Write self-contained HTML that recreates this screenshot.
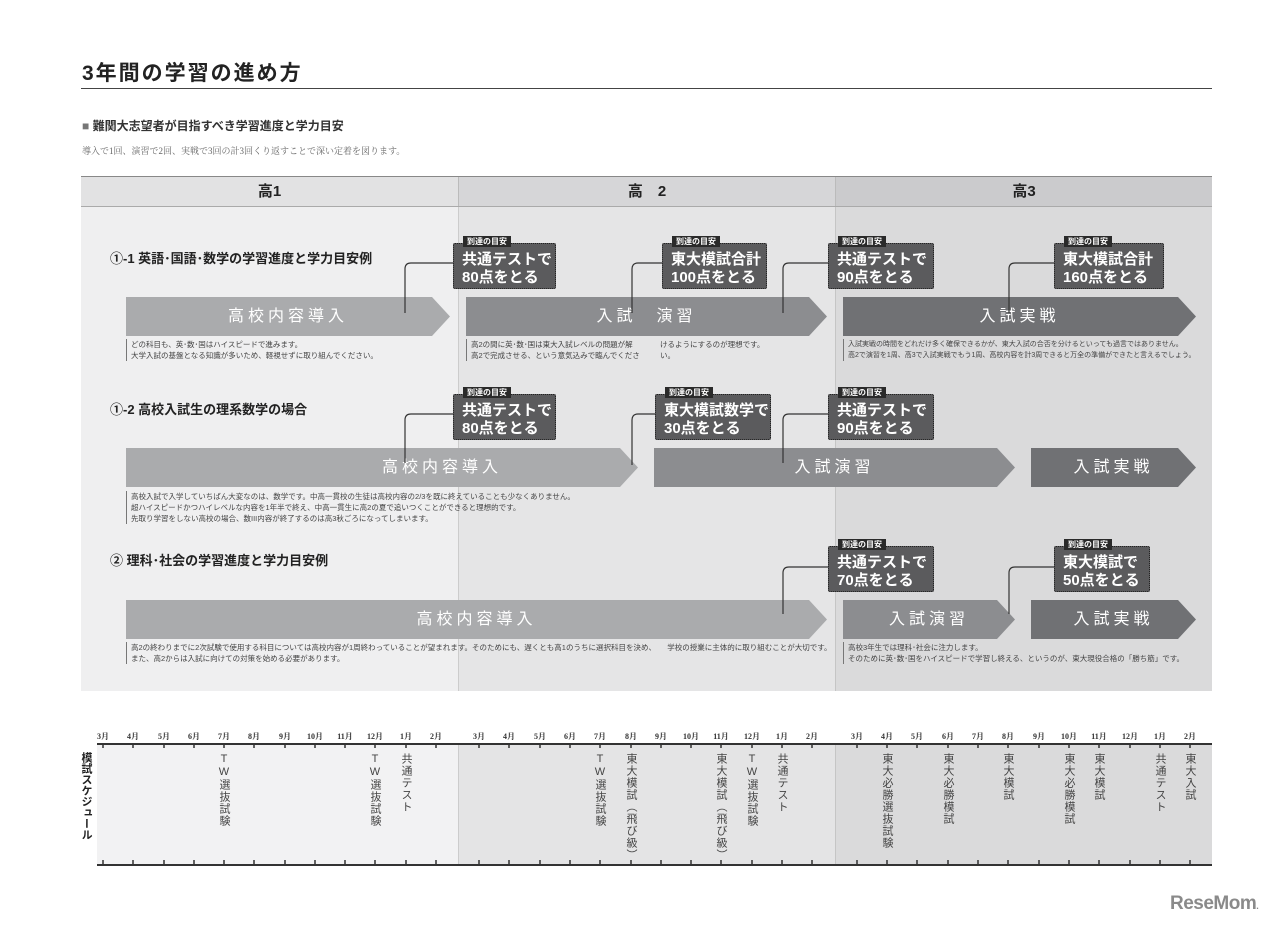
<!DOCTYPE html>
<html><head><meta charset="utf-8">
<style>
*{margin:0;padding:0;box-sizing:border-box}
body{width:1280px;height:930px;background:#fff;position:relative;overflow:hidden;font-family:"Liberation Sans","Noto Sans CJK JP",sans-serif;color:#333}
.a{position:absolute}
.col{position:absolute;top:177px;height:514px}
.hd{position:absolute;top:177px;height:30px;font-weight:bold;font-size:15px;color:#222;text-align:center;line-height:30px}
.arr{position:absolute;height:39px;color:#fff;font-size:16px;letter-spacing:4px;line-height:39px;text-align:center;clip-path:polygon(0 0,calc(100% - 18px) 0,100% 50%,calc(100% - 18px) 100%,0 100%)}
.l1{background:#aaabad}.l2{background:#8c8d90}.l3{background:#707174}
.box{position:absolute;background:#5b5b5d;border:1px dotted #222;color:#fff;font-weight:bold;font-size:15px;line-height:18px;padding:7px 0 0 8px;letter-spacing:0;border-radius:2px;white-space:nowrap}
.tag{position:absolute;left:9px;top:-8px;background:#2a2a2a;color:#fff;font-size:8px;line-height:11px;padding:0 4px;letter-spacing:0;font-weight:bold}
.desc{position:absolute;font-size:7.5px;line-height:11px;color:#444;border-left:1px solid #777;padding-left:4px;white-space:nowrap}
.sec{position:absolute;left:110px;font-size:13px;font-weight:bold;color:#222}
.mo{position:absolute;top:731px;font-size:8px;font-weight:bold;color:#333;width:30px;text-align:center;margin-left:-15px;font-family:"Liberation Serif","Noto Serif CJK SC",serif}
.v{position:absolute;top:753px;writing-mode:vertical-rl;text-orientation:upright;font-size:11px;line-height:12px;color:#444;letter-spacing:1px;margin-left:-6px}
</style></head><body>
<div class="a" style="left:82px;top:57px;font-size:21px;font-weight:bold;color:#222;letter-spacing:2px">3年間の学習の進め方</div>
<div class="a" style="left:81px;top:88px;width:1131px;height:1px;background:#444"></div>
<div class="a" style="left:82px;top:117px;font-size:12px;font-weight:bold;color:#333"><span style="color:#777">■</span> 難関大志望者が目指すべき学習進度と学力目安</div>
<div class="a" style="left:82px;top:144px;font-size:9px;color:#666;font-family:'Liberation Serif','Noto Serif CJK SC',serif">導入で1回、演習で2回、実戦で3回の計3回くり返すことで深い定着を図ります。</div>

<div class="col" style="left:81px;width:377px;background:#efeff0"></div>
<div class="col" style="left:458px;width:377px;background:#e5e5e6;border-left:1px solid #ccc"></div>
<div class="col" style="left:835px;width:377px;background:#dadadb;border-left:1px solid #c5c5c5"></div>
<div class="a" style="left:81px;top:176px;width:1131px;height:2px;background:#888"></div>
<div class="hd" style="left:81px;width:377px;background:#e2e2e3">高1</div>
<div class="hd" style="left:458px;width:377px;background:#d6d6d8;border-left:1px solid #bbb">高　2</div>
<div class="hd" style="left:835px;width:377px;background:#cbcbcd;border-left:1px solid #bbb">高3</div>
<div class="a" style="left:81px;top:206px;width:1131px;height:1px;background:#aaa"></div>

<div class="sec" style="top:248px">①-1 英語･国語･数学の学習進度と学力目安例</div>
<div class="sec" style="top:399px">①-2 高校入試生の理系数学の場合</div>
<div class="sec" style="top:550px">② 理科･社会の学習進度と学力目安例</div>

<div class="arr l1" style="left:126px;top:297px;width:324px">高校内容導入</div>
<div class="arr l2" style="left:466px;top:297px;width:361px">入試　演習</div>
<div class="arr l3" style="left:843px;top:297px;width:353px">入試実戦</div>
<div class="arr l1" style="left:126px;top:448px;width:512px;padding-left:120px">高校内容導入</div>
<div class="arr l2" style="left:654px;top:448px;width:361px">入試演習</div>
<div class="arr l3" style="left:1031px;top:448px;width:165px">入試実戦</div>
<div class="arr l1" style="left:126px;top:600px;width:701px">高校内容導入</div>
<div class="arr l2" style="left:843px;top:600px;width:172px">入試演習</div>
<div class="arr l3" style="left:1031px;top:600px;width:165px">入試実戦</div>

<svg class="a" style="left:0;top:0" width="1280" height="930" fill="none" stroke="#333" stroke-width="1.2">
<path d="M453 263H411Q405 263 405 269V313"/>
<path d="M662 263H638Q632 263 632 269V313"/>
<path d="M828 263H789Q783 263 783 269V313"/>
<path d="M1054 263H1015Q1009 263 1009 269V313"/>
<path d="M453 414H411Q405 414 405 420V463"/>
<path d="M655 414H638Q632 414 632 420V465"/>
<path d="M828 414H789Q783 414 783 420V463"/>
<path d="M828 567H789Q783 567 783 573V614"/>
<path d="M1054 567H1015Q1009 567 1009 573V614"/>
</svg>

<div class="box" style="left:453px;top:243px;width:103px;height:46px"><span class="tag">到達の目安</span>共通テストで<br>80点をとる</div>
<div class="box" style="left:662px;top:243px;width:105px;height:46px"><span class="tag">到達の目安</span>東大模試合計<br>100点をとる</div>
<div class="box" style="left:828px;top:243px;width:106px;height:46px"><span class="tag">到達の目安</span>共通テストで<br>90点をとる</div>
<div class="box" style="left:1054px;top:243px;width:110px;height:46px"><span class="tag">到達の目安</span>東大模試合計<br>160点をとる</div>
<div class="box" style="left:453px;top:394px;width:103px;height:46px"><span class="tag">到達の目安</span>共通テストで<br>80点をとる</div>
<div class="box" style="left:655px;top:394px;width:116px;height:46px"><span class="tag">到達の目安</span>東大模試数学で<br>30点をとる</div>
<div class="box" style="left:828px;top:394px;width:106px;height:46px"><span class="tag">到達の目安</span>共通テストで<br>90点をとる</div>
<div class="box" style="left:828px;top:546px;width:106px;height:46px"><span class="tag">到達の目安</span>共通テストで<br>70点をとる</div>
<div class="box" style="left:1054px;top:546px;width:96px;height:46px"><span class="tag">到達の目安</span>東大模試で<br>50点をとる</div>

<div class="desc" style="left:126px;top:339px">どの科目も、英･数･国はハイスピードで進みます。<br>大学入試の基盤となる知識が多いため、軽視せずに取り組んでください。</div>
<div class="desc" style="left:466px;top:339px">高2の間に英･数･国は東大入試レベルの問題が解<br>高2で完成させる、という意気込みで臨んでくださ</div>
<div class="a" style="left:660px;top:339px;font-size:7.5px;line-height:11px;color:#444">けるようにするのが理想です。<br>い。</div>
<div class="desc" style="left:843px;top:339px;font-size:7px">入試実戦の時間をどれだけ多く確保できるかが、東大入試の合否を分けるといっても過言ではありません。<br>高2で演習を1周、高3で入試実戦でもう1周、高校内容を計3周できると万全の準備ができたと言えるでしょう。</div>
<div class="desc" style="left:126px;top:491px">高校入試で入学していちばん大変なのは、数学です。中高一貫校の生徒は高校内容の2/3を既に終えていることも少なくありません。<br>超ハイスピードかつハイレベルな内容を1年半で終え、中高一貫生に高2の夏で追いつくことができると理想的です。<br>先取り学習をしない高校の場合、数III内容が終了するのは高3秋ごろになってしまいます。</div>
<div class="desc" style="left:126px;top:642px">高2の終わりまでに2次試験で使用する科目については高校内容が1周終わっていることが望まれます。そのためにも、遅くとも高1のうちに選択科目を決め、　　学校の授業に主体的に取り組むことが大切です。<br>また、高2からは入試に向けての対策を始める必要があります。</div>
<div class="desc" style="left:843px;top:642px">高校3年生では理科･社会に注力します。<br>そのために英･数･国をハイスピードで学習し終える、というのが、東大現役合格の「勝ち筋」です。</div>

<div class="a" style="left:97px;top:744px;width:361px;height:120px;background:#f2f2f3"></div>
<div class="a" style="left:458px;top:744px;width:377px;height:120px;background:#e4e4e5;border-left:1px solid #ccc"></div>
<div class="a" style="left:835px;top:744px;width:377px;height:120px;background:#dadadb;border-left:1px solid #c5c5c5"></div>
<div class="a" style="left:97px;top:743px;width:1115px;height:1.5px;background:#333"></div>
<div class="a" style="left:97px;top:864px;width:1115px;height:1.5px;background:#333"></div>
<div class="a" style="left:80px;top:752px;writing-mode:vertical-rl;text-orientation:upright;font-size:11px;font-weight:bold;color:#222;line-height:12px">模試スケジュール</div>
<svg class="a" style="left:0;top:0" width="1280" height="930" stroke="#333" stroke-width="1.5">
<g id="t">
<path d="M103 744v4M133 744v4M164 744v4M194 744v4M224 744v4M254 744v4M285 744v4M315 744v4M345 744v4M375 744v4M406 744v4M436 744v4M479 744v4M509 744v4M540 744v4M570 744v4M600 744v4M631 744v4M661 744v4M691 744v4M721 744v4M752 744v4M782 744v4M812 744v4M857 744v4M887 744v4M917 744v4M948 744v4M978 744v4M1008 744v4M1039 744v4M1069 744v4M1099 744v4M1130 744v4M1160 744v4M1190 744v4"/>
</g>
<use href="#t" y="116"/>
</svg>
<div class="mo" style="left:103px">3月</div><div class="mo" style="left:133px">4月</div><div class="mo" style="left:164px">5月</div><div class="mo" style="left:194px">6月</div><div class="mo" style="left:224px">7月</div><div class="mo" style="left:254px">8月</div><div class="mo" style="left:285px">9月</div><div class="mo" style="left:315px">10月</div><div class="mo" style="left:345px">11月</div><div class="mo" style="left:375px">12月</div><div class="mo" style="left:406px">1月</div><div class="mo" style="left:436px">2月</div>
<div class="mo" style="left:479px">3月</div><div class="mo" style="left:509px">4月</div><div class="mo" style="left:540px">5月</div><div class="mo" style="left:570px">6月</div><div class="mo" style="left:600px">7月</div><div class="mo" style="left:631px">8月</div><div class="mo" style="left:661px">9月</div><div class="mo" style="left:691px">10月</div><div class="mo" style="left:721px">11月</div><div class="mo" style="left:752px">12月</div><div class="mo" style="left:782px">1月</div><div class="mo" style="left:812px">2月</div>
<div class="mo" style="left:857px">3月</div><div class="mo" style="left:887px">4月</div><div class="mo" style="left:917px">5月</div><div class="mo" style="left:948px">6月</div><div class="mo" style="left:978px">7月</div><div class="mo" style="left:1008px">8月</div><div class="mo" style="left:1039px">9月</div><div class="mo" style="left:1069px">10月</div><div class="mo" style="left:1099px">11月</div><div class="mo" style="left:1130px">12月</div><div class="mo" style="left:1160px">1月</div><div class="mo" style="left:1190px">2月</div>

<div class="v" style="left:224px">TW選抜試験</div>
<div class="v" style="left:375px">TW選抜試験</div>
<div class="v" style="left:406px">共通テスト</div>
<div class="v" style="left:600px">TW選抜試験</div>
<div class="v" style="left:631px">東大模試︵飛び級︶</div>
<div class="v" style="left:721px">東大模試︵飛び級︶</div>
<div class="v" style="left:752px">TW選抜試験</div>
<div class="v" style="left:782px">共通テスト</div>
<div class="v" style="left:887px">東大必勝選抜試験</div>
<div class="v" style="left:948px">東大必勝模試</div>
<div class="v" style="left:1008px">東大模試</div>
<div class="v" style="left:1069px">東大必勝模試</div>
<div class="v" style="left:1099px">東大模試</div>
<div class="v" style="left:1160px">共通テスト</div>
<div class="v" style="left:1190px">東大入試</div>

<div class="a" style="left:1170px;top:893px;font-size:19px;font-weight:bold;color:#8a8a8a;letter-spacing:-0.5px">ReseMom<span style="font-size:9px">.</span></div>
</body></html>
